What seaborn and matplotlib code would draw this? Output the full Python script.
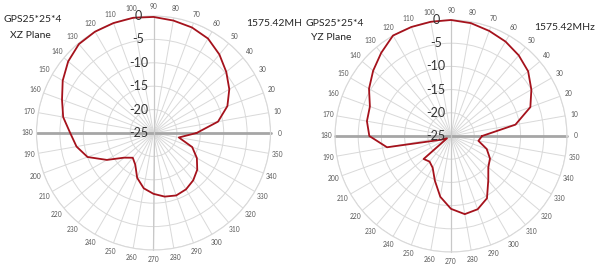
import numpy as np
import pandas as pd
import seaborn as sns
import matplotlib
matplotlib.use("Agg")
import matplotlib.pyplot as plt
from matplotlib.transforms import offset_copy, Bbox, TransformedBbox

# ---------------- data ----------------
angles_deg = list(range(0, 360, 10))
angle_labels = [str(a) for a in angles_deg]

xz_gain = [-15.8, -11.0, -8.2, -6.3, -4.7, -3.1, -1.7, -1.0, -0.6, -0.2,
           0.0, 0.0, 0.0, -0.2, -1.2, -2.6, -4.2, -5.4, -7.2, -8.3,
           -10.0, -13.5, -16.8, -18.1, -17.2, -14.8, -13.0, -12.0, -11.2, -10.8,
           -11.1, -11.8, -12.8, -14.3, -16.2, -19.5]

yz_gain = [-18.3, -10.9, -6.8, -5.0, -3.3, -2.3, -1.5, -0.9, -0.3, 0.0,
           0.0, 0.0, 0.0, -1.6, -3.1, -4.6, -6.4, -6.6, -7.4, -11.0,
           -22.6, -24.0, -17.3, -17.8, -17.1, -14.8, -11.7, -9.3, -7.9, -8.2,
           -9.5, -12.5, -14.5, -15.3, -16.8, -19.0]

r_ticks = [-25, -20, -15, -10, -5, 0]
r_labels = ["-25", "-20", "-15", "-10", "-5", "0"]

model_name = "GPS25*25*4"
plane_names = ["XZ Plane", "YZ Plane"]
freq_label = "1575.42MHz"

# ---------------- style ----------------
sns.set_theme(style="white")
plt.rcParams["font.family"] = ["Lato", "DejaVu Sans"]
plt.rcParams["xtick.major.size"] = 0
plt.rcParams["ytick.major.size"] = 0

W, H = 598, 266
fig = plt.figure(figsize=(W / 100, H / 100), dpi=100)
fig.patch.set_facecolor("white")

GRID = "#d9d9d9"
CURVE = "#a5121c"


def make_polar(rect, gains):
    ax = fig.add_axes(rect, projection="polar")
    ax.set_facecolor("white")
    df = pd.DataFrame({
        "theta": np.deg2rad(angles_deg + [360]),
        "gain": gains + [gains[0]],
    })
    ax.set_ylim(-25, 0)
    ax.set_thetagrids(angles_deg, angle_labels, fontsize=4.8, color="#595959")
    ax.tick_params(axis="x", pad=-0.5, length=0)
    ax.set_yticks(r_ticks)
    ax.set_yticklabels([])
    ax.grid(True, color=GRID, linewidth=0.7)
    ax.spines["polar"].set_color(GRID)
    ax.spines["polar"].set_linewidth(0.8)
    # emphasised 0/180 axis
    for a in (0.0, np.pi):
        ax.plot([a, a], [-25, 0], color="#a6a6a6", linewidth=2.0, zorder=1)
    for a in (np.pi / 2, 3 * np.pi / 2):
        ax.plot([a, a], [-25, 0], color="#c8c8c8", linewidth=0.9, zorder=1)
    sns.lineplot(data=df, x="theta", y="gain", ax=ax, color=CURVE,
                 linewidth=1.3, sort=False, estimator=None, zorder=3)
    for line in ax.get_lines():
        line.set_clip_on(False)
    ax.set_xlabel("")
    ax.set_ylabel("")
    tr = offset_copy(ax.transData, fig=fig, x=-15, y=0, units="dots")
    for r, lab in zip(r_ticks, r_labels):
        ax.text(np.pi / 2, r, lab, transform=tr, ha="center", va="center",
                fontsize=9, color="#333333", zorder=4)
    return ax


ax1 = make_polar([(153.5 - 117) / W, (H - 133 - 117) / H, 234 / W, 234 / H], xz_gain)
ax2 = make_polar([(451 - 116) / W, (H - 136 - 116) / H, 232 / W, 232 / H], yz_gain)

# ---------------- texts ----------------
fs = 7.5
fig.text(3 / W, 1 - 20 / H, model_name, ha="left", va="center", fontsize=fs, color="#262626")
fig.text(10 / W, 1 - 35 / H, plane_names[0], ha="left", va="center", fontsize=fs, color="#262626")
t = fig.text(246 / W, 1 - 24 / H, freq_label, ha="left", va="center", fontsize=fs, color="#262626")
t.set_clip_box(TransformedBbox(Bbox([[0, 0], [301 / W, 1]]), fig.transFigure))
t.set_clip_on(True)

fig.text(306 / W, 1 - 24 / H, model_name, ha="left", va="center", fontsize=fs, color="#262626")
fig.text(311 / W, 1 - 38 / H, plane_names[1], ha="left", va="center", fontsize=fs, color="#262626")
fig.text(595 / W, 1 - 27 / H, freq_label, ha="right", va="center", fontsize=fs, color="#262626")

fig.savefig("out.png", dpi=100, facecolor="white")
